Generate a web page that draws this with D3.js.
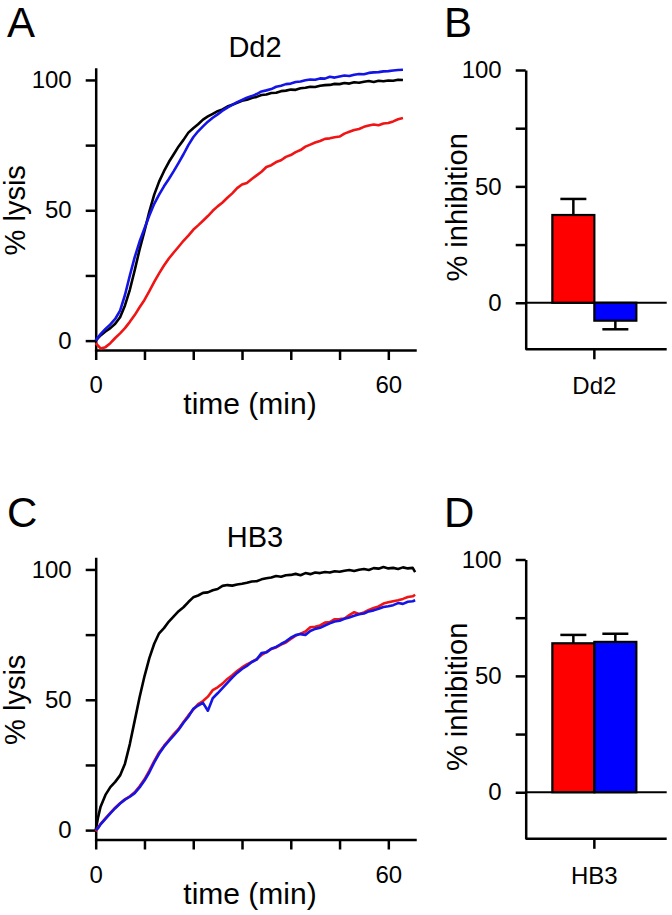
<!DOCTYPE html>
<html>
<head>
<meta charset="utf-8">
<script src="https://cdn.jsdelivr.net/npm/d3@7"></script>
<style>
  body { margin: 0; background: #fff; }
  svg { font-family: 'Liberation Sans', Arial, sans-serif; }
  .axis path, .axis line { stroke: #000; stroke-width: 2.5px; }
  .axis text { font-size: 24px; fill: #000; }
</style>
</head>
<body>
<div id="fig"></div>
<script>
// time points (min) and % lysis traces
const timesA = [0,1,2,3,4,5,6,7,8,9,10,11,12,13,14,15,16,17,18,19,20,21,22,23,24,25,26,27,28,29,30,31,
  32,33,34,35,36,37,38,39,40,41,42,43,44,45,46,47,48,49,50,51,52,53,54,55,56,57,58,59,60,61,62,63];
const dd2Control = [0,2,3.5,4.8,6.5,9,13.5,19.5,27,35,42,49.5,56,61,65,68.5,71.5,74.5,77,79.8,81.5,83,84.8,86,
  87,88,88.7,89.8,90.5,91.2,92,92.4,93.1,93.5,94.2,94.4,95,95.1,95.7,95.9,96.3,96.2,96.8,97,97.4,97.3,97.8,98,
  98.1,98.5,98.4,98.8,98.6,99.1,98.9,99.3,99.6,99.2,99.7,99.5,99.8,99.7,100.1,100];
const dd2Red = [-1,-3,-2.5,-1,1,2.8,4.8,7.2,9.8,12.8,15.6,19,22.5,25.8,28.8,31.5,33.8,36,38.3,40.3,42.5,44.2,46,
  47.8,49.8,51.5,53,54.8,56.5,58.5,59.9,60.5,62,63.4,64.8,66.6,67.3,68.5,69.2,70.5,71.2,72.3,73.1,74.4,75.2,76,
  76.6,77.4,77.6,78,78.3,79.4,80.1,80.8,81.2,82,82.5,82.9,82.6,83.3,83.5,84.1,84.9,85.4];
const dd2Blue = [0,2.5,4.5,6.2,8.3,11.5,17.5,25,32,38,43,48,52.5,56,59.2,62,65,68.2,71.5,75,78,80.3,82.2,84,85.5,
  86.8,88.2,89.4,90.4,91.5,92.3,93.2,93.8,94.6,95.6,96,96.5,97.4,97.8,98.4,98.6,99.2,99.4,99.9,100.2,100.1,100.6,
  100.5,101.2,100.9,101.3,101.7,101.5,102,102.3,102.2,102.7,102.9,103,103.3,103.4,103.6,103.8,103.9];

const timesC = [0,0.5,1,2,3,4,5,6,7,8,9,10,11,12,13,14,15,16,17,18,19,20,21,22,23,24,25,26,27,28,29,30,31,32,
  33,34,35,36,37,38,39,40,41,42,43,44,45,46,47,48,49,50,51,52,53,54,55,56,57,58,59,60,61,62,63,64,65,65.5];
const hb3Control = [0,5,9,13.5,16.5,18.5,21,25.5,33,42,51,59,66,71.5,75.5,77.5,80,82,84,85.5,87.5,89.3,90,91,
  91.2,92,92.5,93.7,94,93.8,94.2,94.5,94.9,95.4,95.5,96.2,96.6,96.9,97.5,97.2,97.8,97.9,98.3,97.8,98.6,98.2,
  98.8,98.6,99,98.8,99.3,99.1,99.5,99.8,99.4,99.9,100.2,99.8,100.5,100.3,100.9,100.4,100.6,100.2,100.8,100.4,
  100.6,99];
const hb3Red = [-0.5,1,2.4,4.5,6.6,8.6,10.3,11.8,13,14.5,16.8,19.5,22.8,26.5,29.8,32.3,34.5,36.8,38.8,41.5,44,
  46.2,48.3,49.5,51.2,53.7,54.8,56.2,58,59.4,61,62.4,63.6,64.5,65.6,67.2,68.3,69.5,70.1,71.2,72,73.3,74.6,75.4,
  76.2,77.8,78,78.5,79.6,79.8,80.9,81,81.2,82.5,83.6,82.9,83.5,84.5,85.2,85.8,86.9,87.4,87.8,88.2,88.7,89.4,
  89.7,90.3];
const hb3Blue = [0,0.8,2.2,4.3,6.4,8.4,10.2,11.7,12.8,14.2,16.4,19,22.2,26,29.3,32,34.2,36.3,38.5,41.2,43.5,
  46.5,47.8,48.8,45.8,50.6,52.5,54.5,56.5,58.5,60.3,61.8,63,64.5,65.4,67.9,68.2,69.6,70.3,71.4,72.4,73.8,74.8,
  75.2,74.9,76.4,77.2,77.6,78.5,79.3,80,80.3,81.1,81.6,82.2,82.8,83.1,83.9,84.3,84.9,85.6,85.9,86.3,87.1,86.8,
  87.6,87.8,88.2];

// % inhibition bars (red, blue) with SEM
const barSeries = ['red', 'blue'];
const dd2Inhibition = [37.7, -7.7];
const dd2Sem = [6.9, 3.7];
const hb3Inhibition = [64.0, 64.6];
const hb3Sem = [3.6, 3.5];

const pctTicks = [0, 25, 50, 75, 100];
const timeTicks = [0, 10, 20, 30, 40, 50, 60];
const shownPct = [0, 50, 100];
const shownTime = [0, 60];

const lineColors = { control: '#000', red: '#f01414', blue: '#1414e6' };
const barColors = { red: '#ff0000', blue: '#0000ff' };

const svgWidth = 672;
const svgHeight = 915;
const rowOffset = 489.5;

const svg = d3.select('#fig').append('svg')
  .attr('width', svgWidth)
  .attr('height', svgHeight);

const panelLetter = (x, y, t) => svg.append('text')
  .attr('x', x).attr('y', y)
  .attr('font-size', 42)
  .text(t);

const linePanel = (dy, title, times, traces) => {
  const g = svg.append('g').attr('transform', `translate(0,${dy})`);

  const xScale = d3.scaleLinear().domain([0, 65.47]).range([95.7, 415]);
  const yScale = d3.scaleLinear().domain([-3.6, 104.2]).range([350, 69]);

  const xAxis = d3.axisBottom(xScale)
    .tickValues(timeTicks)
    .tickSize(10).tickSizeOuter(0).tickPadding(16)
    .tickFormat(d => shownTime.includes(d) ? d : '');
  const yAxis = d3.axisLeft(yScale)
    .tickValues(pctTicks)
    .tickSize(10).tickSizeOuter(0).tickPadding(14)
    .tickFormat(d => shownPct.includes(d) ? d : '');

  g.append('g').attr('class', 'axis')
    .attr('transform', `translate(0,${yScale.range()[0]})`)
    .call(xAxis);
  g.append('g').attr('class', 'axis')
    .attr('transform', `translate(${xScale.range()[0]},0)`)
    .call(yAxis);
  g.selectAll('.axis .domain').attr('stroke-linecap', 'square');

  const line = d3.line()
    .x((d, i) => xScale(times[i]))
    .y(d => yScale(d));

  traces.forEach(tr => {
    g.append('path')
      .datum(tr.values)
      .attr('fill', 'none')
      .attr('stroke', tr.color)
      .attr('stroke-width', 2.6)
      .attr('stroke-linejoin', 'round')
      .attr('d', line);
  });

  g.append('text')
    .attr('x', 255).attr('y', 57)
    .attr('text-anchor', 'middle')
    .attr('font-size', 29)
    .text(title);

  g.append('text')
    .attr('x', 250).attr('y', 414)
    .attr('text-anchor', 'middle')
    .attr('font-size', 30)
    .text('time (min)');

  g.append('text')
    .attr('transform', `translate(25,${yScale(50)}) rotate(-90)`)
    .attr('text-anchor', 'middle')
    .attr('font-size', 29)
    .text('% lysis');
};

const barPanel = (dy, group, values, sems) => {
  const g = svg.append('g').attr('transform', `translate(0,${dy})`);

  const xBand = d3.scaleBand().domain([group]).range([525.7, 663]);
  const xInner = d3.scaleBand().domain(barSeries).range([-42, 42]);
  const yScale = d3.scaleLinear().domain([-20, 100]).range([349.3, 70]);

  const xAxis = d3.axisBottom(xBand).tickSize(10).tickSizeOuter(0).tickPadding(18);
  const yAxis = d3.axisLeft(yScale)
    .tickValues(pctTicks)
    .tickSize(10).tickSizeOuter(0).tickPadding(14)
    .tickFormat(d => shownPct.includes(d) ? d : '');

  const xg = g.append('g').attr('class', 'axis')
    .attr('transform', `translate(0,${yScale.range()[0]})`)
    .call(xAxis);
  xg.select('.domain').remove();
  xg.append('line')
    .attr('x1', xBand.range()[0]).attr('x2', 666.7)
    .attr('stroke', '#000').attr('stroke-width', 2.5);

  g.append('g').attr('class', 'axis')
    .attr('transform', `translate(${xBand.range()[0]},0)`)
    .call(yAxis);

  // zero line
  g.append('line')
    .attr('x1', xBand.range()[0]).attr('x2', 666.7)
    .attr('y1', yScale(0)).attr('y2', yScale(0))
    .attr('stroke', '#000').attr('stroke-width', 2);

  const cx = xBand(group) + xBand.bandwidth() / 2;
  const bars = barSeries.map((s, i) => ({ s, v: values[i], e: sems[i] }));

  // error bars
  bars.forEach(b => {
    const mid = cx + xInner(b.s) + xInner.bandwidth() / 2;
    const end = b.v + Math.sign(b.v) * b.e;
    g.append('line')
      .attr('x1', mid).attr('x2', mid)
      .attr('y1', yScale(b.v)).attr('y2', yScale(end))
      .attr('stroke', '#000').attr('stroke-width', 2.5);
    g.append('line')
      .attr('x1', mid - 13).attr('x2', mid + 13)
      .attr('y1', yScale(end)).attr('y2', yScale(end))
      .attr('stroke', '#000').attr('stroke-width', 2.5);
  });

  g.selectAll('rect.bar').data(bars)
    .enter().append('rect')
      .attr('class', 'bar')
      .attr('x', d => cx + xInner(d.s))
      .attr('width', xInner.bandwidth())
      .attr('y', d => yScale(Math.max(0, d.v)))
      .attr('height', d => Math.abs(yScale(d.v) - yScale(0)))
      .attr('fill', d => barColors[d.s])
      .attr('stroke', '#000')
      .attr('stroke-width', 2.2);

  g.append('text')
    .attr('transform', `translate(467,${yScale(50) + 21}) rotate(-90)`)
    .attr('text-anchor', 'middle')
    .attr('font-size', 29)
    .text('% inhibition');
};

panelLetter(7, 37, 'A');
panelLetter(444, 37, 'B');
panelLetter(7, 37 + rowOffset, 'C');
panelLetter(444, 37 + rowOffset, 'D');

linePanel(0, 'Dd2', timesA, [
  { values: dd2Control, color: lineColors.control },
  { values: dd2Red, color: lineColors.red },
  { values: dd2Blue, color: lineColors.blue }
]);
linePanel(rowOffset, 'HB3', timesC, [
  { values: hb3Control, color: lineColors.control },
  { values: hb3Red, color: lineColors.red },
  { values: hb3Blue, color: lineColors.blue }
]);

barPanel(0, 'Dd2', dd2Inhibition, dd2Sem);
barPanel(rowOffset, 'HB3', hb3Inhibition, hb3Sem);
</script>
</body>
</html>
